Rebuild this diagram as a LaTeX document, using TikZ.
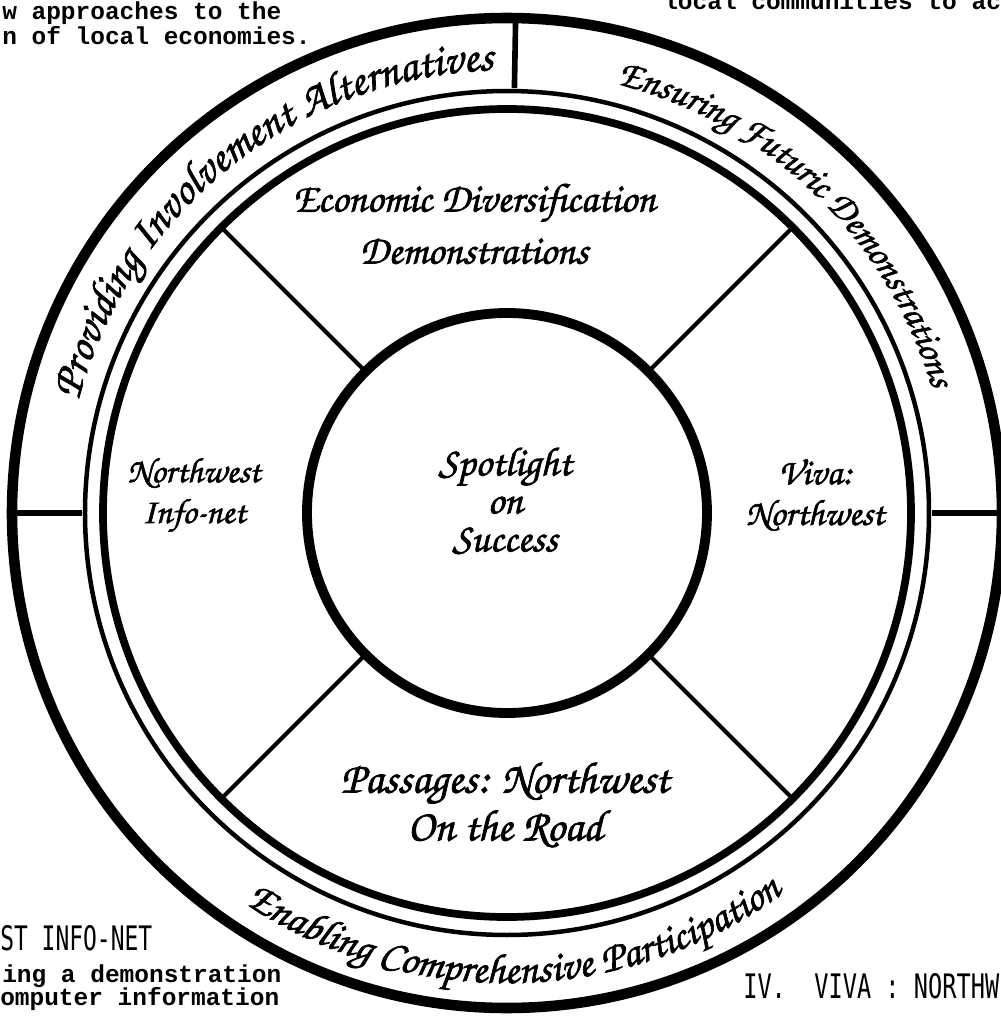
\documentclass[tikz,border=0pt]{standalone}
\usepackage{fontspec}
\usepackage{graphicx}
\setmainfont{Liberation Serif}
\newfontfamily\hand[FakeBold=1.6]{TeX Gyre Chorus}
\newfontfamily\typer{Liberation Mono}
\newfontfamily\headfont{DejaVu Sans Mono}
\usetikzlibrary{decorations.text}

\begin{document}
\begin{tikzpicture}[x=0.025cm,y=0.025cm,
    handtext/.style n args={2}{font=\hand\fontsize{#1}{#2}\selectfont,align=center,inner sep=0pt},
    ringtext/.style n args={2}{decorate,decoration={text along path,text align=center,
        text={|\hand\fontsize{#1}{34}\selectfont|#2}}},
    typed/.style={font=\typer\bfseries\fontsize{17.4}{17.7}\selectfont,anchor=base west,inner sep=0pt},
    heading/.style={font=\headfont\fontsize{24}{26}\selectfont,anchor=base west,inner sep=0pt}]
  \path[use as bounding box] (-507,-508) rectangle (494,513);
  \clip (-507,-508) rectangle (494,513);

  % rings
  \draw[line width=7.5pt] (0,0) circle[radius=495];
  \draw[line width=3.2pt] (0,0) circle[radius=422];
  \draw[line width=5.5pt] (0,0) circle[radius=404];
  \node (hub) [circle,draw,line width=7pt,minimum size=400*0.025cm] at (0,0) {};

  % ring dividers
  \draw[line width=4pt] (89:425) -- (89:492);
  \draw[line width=4pt] (0:425) -- (0:492);
  \draw[line width=4pt] (180:425) -- (180:492);

  % spokes
  \foreach \a in {45,135,225,315}
    \draw[line width=3pt] (\a:203) -- (\a:402);

  % ring labels
  \path[ringtext={31.8}{Providing Involvement Alternatives}] (170:443) arc[start angle=170,end angle=87,radius=443];
  \path[ringtext={27.2}{Ensuring Futuric Demonstrations}] (80:443) arc[start angle=80,end angle=12,radius=443];
  \path[ringtext={30}{Enabling Comprehensive Participation}] (225:470) arc[start angle=225,end angle=317,radius=470];

  % sector labels
  \node (econ) [handtext={29}{37}] at (-33,289) {Economic Diversification\\Demonstrations};
  \node (spot) [handtext={29}{27}] at (-2,12) {Spotlight\\on\\Success};
  \node (info) [handtext={25}{29}] at (-313,18) {Northwest\\Info-net};
  \node (viva) [handtext={26}{29}] at (308,18) {Viva:\\Northwest};
  \node (pass) [handtext={31.5}{34}] at (-2,-292) {Passages: Northwest\\On the Road};

  % surrounding page text
  \node (tl1) [typed] at (-505,493) {w approaches to the};
  \node (tl2) [typed] at (-505,468) {n of local economies.};
  \node (tr1) [typed] at (156,503) {local communities to ac};
  \node (infohead) [heading] at (-507,-437) {\scalebox{0.68}[1]{ST INFO-NET}};
  \node (bl1) [typed] at (-505,-469) {ing a demonstration};
  \node (bl2) [typed] at (-507,-492) {omputer information};
  \node (vivahead) [heading] at (236,-485) {\scalebox{0.7}[1]{IV.\ \ VIVA : NORTHW}};
\end{tikzpicture}
\end{document}
